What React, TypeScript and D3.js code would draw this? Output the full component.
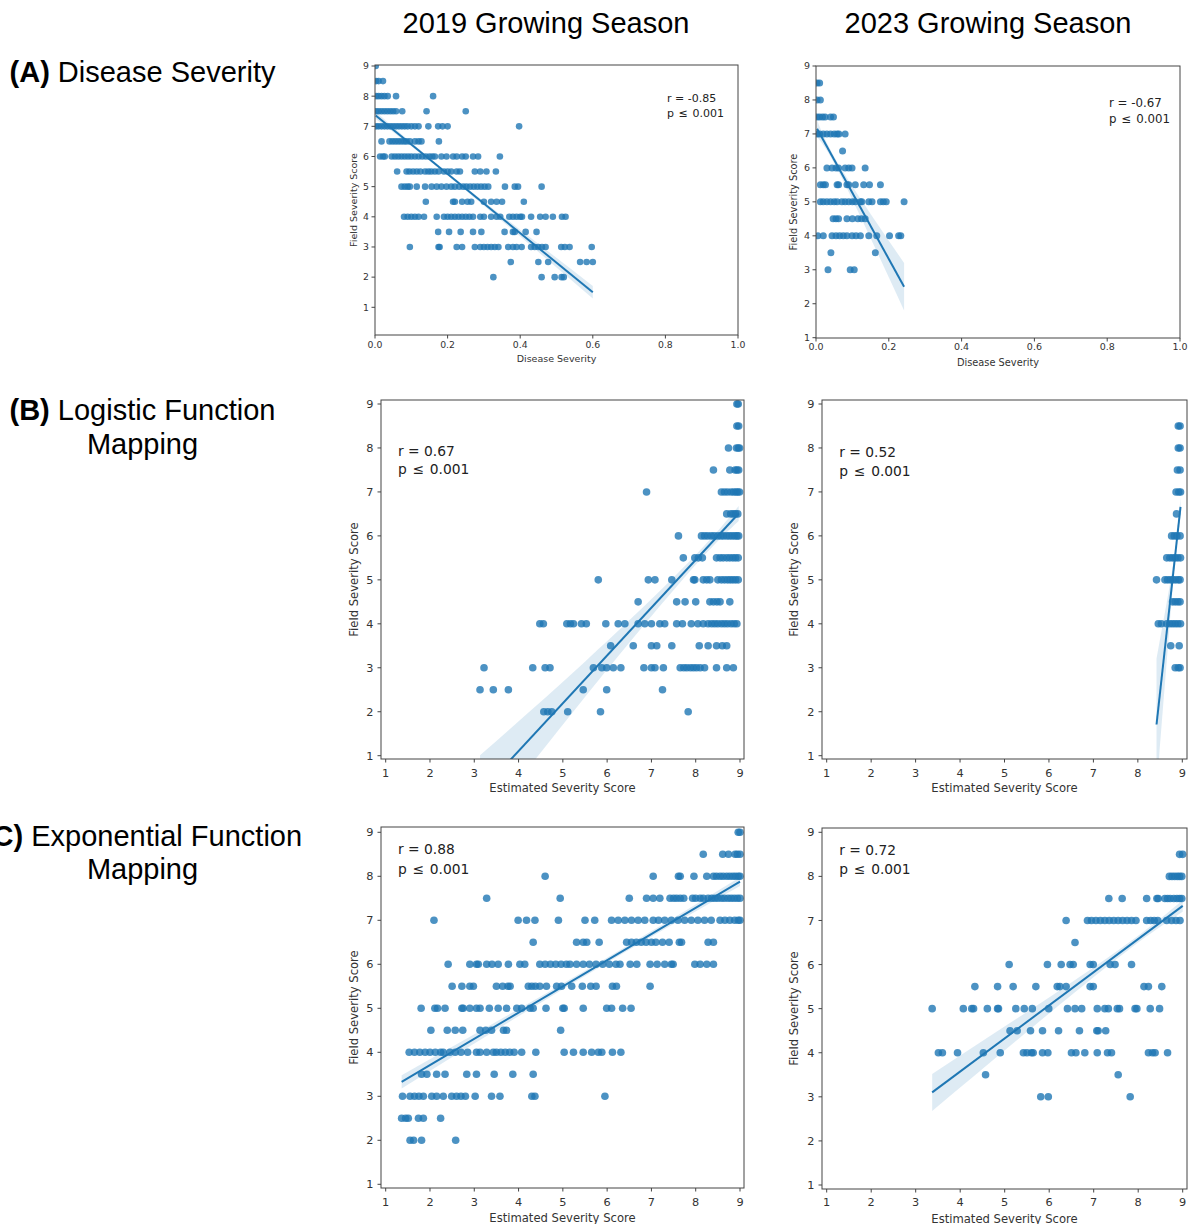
import React, { useEffect, useRef } from 'react';
import * as d3 from 'd3';

type Row = [number, number[]];
type Pair = [number, number];

const columnTitles = ['2019 Growing Season', '2023 Growing Season'];
const rowTags = ['(A)', '(B)', '(C)'];
const rowNames = [['Disease Severity'], ['Logistic Function', 'Mapping'], ['Exponential Function', 'Mapping']];
const xLabels = ['Disease Severity', 'Estimated Severity Score', 'Estimated Severity Score'];
const yLabel = 'Field Severity Score';
const diseaseTicks = [0, 0.2, 0.4, 0.6, 0.8, 1.0];
const scoreTicks = [1, 2, 3, 4, 5, 6, 7, 8, 9];
const rValues = ['-0.85', '-0.67', '0.67', '0.52', '0.88', '0.72'];

// each row: field severity score, then the x values at that score
const disease2019: Row[] = [
  [9, [0.002]],
  [8.5, [0.003, 0.01, 0.022]],
  [8, [0.003, 0.01, 0.018, 0.026, 0.035, 0.058, 0.16]],
  [7.5, [0.003, 0.01, 0.018, 0.026, 0.034, 0.042, 0.05, 0.058, 0.075, 0.142, 0.25]],
  [7, [0.003, 0.01, 0.018, 0.026, 0.034, 0.042, 0.05, 0.058, 0.066, 0.074, 0.082, 0.09, 0.1, 0.11, 0.12, 0.147, 0.174, 0.186, 0.2, 0.397]],
  [6.5, [0.018, 0.04, 0.048, 0.056, 0.064, 0.072, 0.08, 0.087, 0.096, 0.11, 0.12, 0.128, 0.176]],
  [6, [0.014, 0.022, 0.027, 0.046, 0.055, 0.064, 0.073, 0.082, 0.091, 0.1, 0.11, 0.12, 0.13, 0.14, 0.15, 0.158, 0.165, 0.183, 0.197, 0.215, 0.225, 0.24, 0.25, 0.27, 0.284, 0.344]],
  [5.5, [0.061, 0.087, 0.095, 0.105, 0.115, 0.125, 0.138, 0.147, 0.155, 0.165, 0.175, 0.19, 0.2, 0.21, 0.225, 0.234, 0.275, 0.29, 0.307, 0.333]],
  [5, [0.073, 0.082, 0.09, 0.096, 0.115, 0.138, 0.156, 0.17, 0.183, 0.197, 0.21, 0.22, 0.232, 0.243, 0.252, 0.262, 0.272, 0.282, 0.292, 0.302, 0.312, 0.358, 0.385, 0.394, 0.459]],
  [4.5, [0.14, 0.215, 0.22, 0.24, 0.255, 0.265, 0.3, 0.32, 0.335, 0.35, 0.41]],
  [4, [0.08, 0.09, 0.1, 0.11, 0.12, 0.135, 0.17, 0.19, 0.2, 0.21, 0.22, 0.23, 0.24, 0.25, 0.26, 0.27, 0.29, 0.3, 0.32, 0.335, 0.345, 0.37, 0.38, 0.39, 0.4, 0.405, 0.43, 0.455, 0.47, 0.49, 0.515, 0.525]],
  [3.5, [0.174, 0.204, 0.236, 0.27, 0.293, 0.357, 0.38, 0.385, 0.415, 0.445]],
  [3, [0.096, 0.175, 0.178, 0.225, 0.24, 0.275, 0.29, 0.3, 0.31, 0.32, 0.33, 0.34, 0.367, 0.38, 0.39, 0.404, 0.43, 0.44, 0.45, 0.46, 0.47, 0.513, 0.523, 0.536, 0.597]],
  [2.5, [0.374, 0.45, 0.477, 0.565, 0.583, 0.6]],
  [2, [0.326, 0.459, 0.495, 0.514, 0.52]],
];

const disease2023: Row[] = [
  [8.5, [0.003, 0.01]],
  [8, [0.003, 0.012]],
  [7.5, [0.003, 0.01, 0.018, 0.025, 0.04, 0.048]],
  [7, [0.003, 0.01, 0.02, 0.03, 0.04, 0.05, 0.058, 0.063, 0.08]],
  [6.5, [0.073]],
  [6, [0.03, 0.044, 0.055, 0.062, 0.08, 0.09, 0.099, 0.135]],
  [5.5, [0.012, 0.02, 0.026, 0.058, 0.062, 0.085, 0.09, 0.108, 0.131, 0.147, 0.177]],
  [5, [0.012, 0.02, 0.03, 0.04, 0.05, 0.058, 0.071, 0.08, 0.09, 0.1, 0.108, 0.122, 0.126, 0.145, 0.154, 0.177, 0.185, 0.193, 0.242]],
  [4.5, [0.047, 0.055, 0.062, 0.085, 0.1, 0.115, 0.125, 0.135]],
  [4, [0.005, 0.02, 0.044, 0.055, 0.065, 0.075, 0.085, 0.099, 0.11, 0.122, 0.145, 0.167, 0.202, 0.227, 0.233]],
  [3.5, [0.041, 0.163]],
  [3, [0.033, 0.094, 0.105]],
];

const logistic2019: Row[] = [
  [9, [8.93, 8.96]],
  [8.5, [8.93, 8.97]],
  [8, [8.74, 8.92, 8.96, 8.99]],
  [7.5, [8.4, 8.77, 8.89, 8.93, 8.97]],
  [7, [6.89, 8.58, 8.65, 8.72, 8.8, 8.86, 8.91, 8.95, 8.99]],
  [6.5, [8.7, 8.79, 8.85, 8.9, 8.95]],
  [6, [7.61, 8.13, 8.2, 8.27, 8.35, 8.42, 8.5, 8.57, 8.63, 8.7, 8.76, 8.82, 8.88, 8.93, 8.97]],
  [5.5, [7.72, 7.98, 8.06, 8.15, 8.47, 8.55, 8.62, 8.7, 8.77, 8.84, 8.9, 8.96]],
  [5, [5.8, 6.93, 7.08, 7.46, 7.95, 7.98, 8.17, 8.25, 8.32, 8.5, 8.58, 8.65, 8.72, 8.78, 8.84, 8.9, 8.96]],
  [4.5, [6.7, 7.57, 7.76, 8.0, 8.32, 8.4, 8.48, 8.55, 8.77]],
  [4, [4.48, 4.56, 5.09, 5.17, 5.24, 5.42, 5.53, 5.97, 6.25, 6.4, 6.7, 6.85, 7.0, 7.19, 7.3, 7.57, 7.7, 7.9, 8.05, 8.17, 8.28, 8.36, 8.43, 8.5, 8.58, 8.65, 8.72, 8.8, 8.87, 8.93]],
  [3.5, [6.08, 6.59, 7.0, 7.12, 7.46, 8.08, 8.28, 8.47, 8.6, 8.7]],
  [3, [3.22, 4.32, 4.6, 4.71, 5.69, 5.88, 5.99, 6.14, 6.31, 6.83, 7.0, 7.08, 7.27, 7.65, 7.73, 7.8, 7.88, 7.95, 8.02, 8.1, 8.2, 8.47, 8.7, 8.85]],
  [2.5, [3.13, 3.43, 3.77, 5.46, 5.99, 7.25]],
  [2, [4.57, 4.66, 4.75, 5.11, 5.85, 7.83]],
];

const logistic2023: Row[] = [
  [8.5, [8.91, 8.95]],
  [8, [8.91, 8.95]],
  [7.5, [8.89, 8.95]],
  [7, [8.86, 8.92, 8.96]],
  [6.5, [8.87]],
  [6, [8.76, 8.82, 8.88, 8.95]],
  [5.5, [8.65, 8.72, 8.78, 8.84, 8.9, 8.96]],
  [5, [8.42, 8.61, 8.67, 8.73, 8.79, 8.85, 8.91, 8.95]],
  [4.5, [8.78, 8.84, 8.9, 8.95]],
  [4, [8.46, 8.53, 8.65, 8.72, 8.78, 8.84, 8.9, 8.96]],
  [3.5, [8.74, 8.93]],
  [3, [8.84, 8.91, 8.95]],
];

const exponential2019: Row[] = [
  [9, [8.96, 9.0]],
  [8.5, [8.17, 8.61, 8.74, 8.89, 8.94, 9.0]],
  [8, [4.6, 7.04, 7.61, 7.65, 7.96, 8.25, 8.4, 8.47, 8.55, 8.62, 8.7, 8.77, 8.84, 8.9, 8.96, 9.0]],
  [7.5, [3.28, 4.94, 6.5, 6.89, 7.04, 7.19, 7.42, 7.5, 7.57, 7.65, 7.73, 7.93, 8.0, 8.1, 8.17, 8.28, 8.36, 8.43, 8.5, 8.58, 8.65, 8.73, 8.8, 8.87, 8.94, 9.0]],
  [7, [2.09, 3.99, 4.18, 4.37, 4.9, 5.5, 5.72, 6.1, 6.25, 6.4, 6.55, 6.7, 6.85, 7.04, 7.16, 7.3, 7.45, 7.6, 7.75, 7.9, 8.05, 8.2, 8.35, 8.55, 8.66, 8.77, 8.88, 8.96, 9.0]],
  [6.5, [4.33, 5.31, 5.46, 5.54, 5.82, 6.44, 6.55, 6.66, 6.77, 6.88, 7.0, 7.1, 7.25, 7.4, 7.63, 7.68, 8.28, 8.4]],
  [6, [2.41, 2.9, 3.05, 3.09, 3.28, 3.4, 3.54, 3.77, 4.03, 4.14, 4.48, 4.6, 4.72, 4.84, 4.96, 5.08, 5.16, 5.31, 5.46, 5.6, 5.75, 5.9, 6.05, 6.2, 6.29, 6.52, 6.67, 6.97, 7.13, 7.3, 7.45, 7.49, 7.98, 8.1, 8.25, 8.4]],
  [5.5, [2.5, 2.72, 2.9, 2.98, 3.5, 3.64, 3.76, 3.81, 4.22, 4.3, 4.38, 4.48, 4.63, 4.86, 4.97, 5.2, 5.44, 5.63, 5.75, 6.12, 6.21, 6.97]],
  [5, [1.8, 2.11, 2.17, 2.34, 2.72, 2.75, 2.9, 3.05, 3.13, 3.34, 3.54, 3.73, 3.96, 4.07, 4.26, 4.33, 4.62, 5.0, 5.03, 5.46, 5.99, 6.1, 6.35, 6.54]],
  [4.5, [2.02, 2.39, 2.57, 2.74, 3.13, 3.26, 3.39, 3.66, 3.73, 4.95]],
  [4, [1.53, 1.65, 1.77, 1.89, 2.0, 2.12, 2.24, 2.3, 2.45, 2.57, 2.7, 2.85, 3.05, 3.13, 3.28, 3.43, 3.5, 3.6, 3.7, 3.8, 3.9, 4.07, 4.39, 5.03, 5.24, 5.46, 5.65, 5.8, 5.88, 6.12, 6.31]],
  [3.5, [1.81, 1.93, 2.15, 2.34, 2.83, 3.05, 3.45, 3.87, 4.33]],
  [3, [1.38, 1.55, 1.65, 1.75, 1.85, 2.04, 2.15, 2.3, 2.49, 2.6, 2.7, 2.8, 3.02, 3.39, 3.58, 4.3, 4.37, 5.95]],
  [2.5, [1.36, 1.45, 1.51, 1.74, 1.85, 2.24]],
  [2, [1.55, 1.63, 1.81, 2.58]],
];

const exponential2023: Row[] = [
  [8.5, [8.93, 9.0]],
  [8, [8.7, 8.76, 8.82, 8.88, 8.93, 8.98]],
  [7.5, [7.34, 7.64, 8.19, 8.42, 8.45, 8.6, 8.66, 8.72, 8.8, 8.87, 8.93, 8.98]],
  [7, [6.38, 6.86, 6.95, 7.05, 7.15, 7.25, 7.35, 7.45, 7.55, 7.65, 7.75, 7.85, 7.95, 8.19, 8.28, 8.36, 8.44, 8.64, 8.75, 8.85, 8.94]],
  [6.5, [6.58]],
  [6, [5.1, 5.96, 6.27, 6.47, 6.54, 6.92, 6.99, 7.37, 7.48, 7.85]],
  [5.5, [4.33, 4.84, 5.19, 5.7, 6.18, 6.24, 6.38, 6.92, 6.99, 8.13, 8.23, 8.53]],
  [5, [3.37, 4.07, 4.26, 4.3, 4.61, 4.84, 4.86, 5.25, 5.44, 5.62, 5.99, 6.41, 6.58, 6.73, 7.08, 7.25, 7.33, 7.53, 7.58, 7.93, 7.97, 8.27, 8.48]],
  [4.5, [5.12, 5.28, 5.58, 5.85, 6.21, 6.68, 7.07, 7.1, 7.27]],
  [4, [3.51, 3.6, 3.94, 4.52, 4.9, 5.42, 5.5, 5.6, 5.64, 5.85, 5.97, 6.5, 6.6, 6.8, 7.08, 7.31, 7.4, 8.23, 8.32, 8.38, 8.66]],
  [3.5, [4.57, 7.55]],
  [3, [5.81, 5.98, 7.82]],
];

// fitted regression line ends and confidence band half-widths [x, halfWidth]
const fitDisease2019: Pair[] = [[0.002, 7.36], [0.6, 1.5]];
const bandDisease2019: Pair[] = [[0.002, 0.12], [0.22, 0.05], [0.6, 0.21]];
const fitDisease2023: Pair[] = [[0.003, 7.15], [0.242, 2.5]];
const bandDisease2023: Pair[] = [[0.003, 0.25], [0.07, 0.12], [0.242, 0.7]];
const fitLogistic2019: Pair[] = [[3.13, 0.16], [8.97, 6.51]];
const bandLogistic2019: Pair[] = [[3.13, 0.85], [5.5, 0.4], [7.8, 0.12], [8.97, 0.17]];
const fitLogistic2023: Pair[] = [[8.42, 1.71], [8.96, 6.66]];
const bandLogistic2023: Pair[] = [[8.42, 1.5], [8.7, 0.5], [8.85, 0.12], [8.96, 0.2]];
const fitExponential2019: Pair[] = [[1.36, 3.33], [9.0, 7.88]];
const bandExponential2019: Pair[] = [[1.36, 0.15], [5.5, 0.06], [9.0, 0.1]];
const fitExponential2023: Pair[] = [[3.37, 3.1], [9.0, 7.33]];
const bandExponential2023: Pair[] = [[3.37, 0.42], [7.2, 0.1], [9.0, 0.13]];

const blue = '#1f77b4';
const axisFont = 'DejaVu Sans, sans-serif';
const titleFont = 'Liberation Sans, Arial, sans-serif';

// layout: x/y give pixel positions of first and last tick, box is the axes frame
const panels = [
  { rows: disease2019, fit: fitDisease2019, band: bandDisease2019, xt: diseaseTicks, x: [375, 738], y: [307.3, 66], box: [375, 65, 738, 335], tick: 9.3, label: 9.5, note: 11, r: 3.3, ann: [667, 101.7, 116.7], xlab: 362, ylab: 356.5, xtb: 348.3, row: 0 },
  { rows: disease2023, fit: fitDisease2023, band: bandDisease2023, xt: diseaseTicks, x: [816, 1180], y: [337.7, 66], box: [816, 66, 1180, 338], tick: 9.5, label: 9.8, note: 11.8, r: 3.5, ann: [1109, 106.7, 122.5], xlab: 365.5, ylab: 796.5, xtb: 350, row: 0 },
  { rows: logistic2019, fit: fitLogistic2019, band: bandLogistic2019, xt: scoreTicks, x: [385.7, 740], y: [755.7, 404], box: [381, 400, 744, 759], tick: 11.3, label: 11.6, note: 13.8, r: 3.8, ann: [398, 455.7, 474], xlab: 792, ylab: 357.5, xtb: 776.7, row: 1 },
  { rows: logistic2023, fit: fitLogistic2023, band: bandLogistic2023, xt: scoreTicks, x: [826.7, 1182.3], y: [755.7, 404], box: [822, 400, 1187, 759], tick: 11.3, label: 11.6, note: 13.8, r: 3.8, ann: [839.3, 456.7, 475.5], xlab: 792, ylab: 797.5, xtb: 776.7, row: 1 },
  { rows: exponential2019, fit: fitExponential2019, band: bandExponential2019, xt: scoreTicks, x: [385.7, 740], y: [1184.3, 832.3], box: [381, 827, 744, 1188], tick: 11.3, label: 11.6, note: 13.8, r: 3.8, ann: [398, 854.3, 874], xlab: 1221.5, ylab: 357.5, xtb: 1205.7, row: 2 },
  { rows: exponential2023, fit: fitExponential2023, band: bandExponential2023, xt: scoreTicks, x: [826.7, 1182.7], y: [1185, 832.3], box: [822, 828, 1187, 1189], tick: 11.3, label: 11.6, note: 13.8, r: 3.8, ann: [839.3, 854.7, 874], xlab: 1223, ylab: 797.5, xtb: 1206, row: 2 },
];

const App = () => {
  const svgRef = useRef<SVGSVGElement>(null);

  useEffect(() => {
    const svg = d3.select(svgRef.current);
    svg.selectAll('*').remove();

    // column titles
    columnTitles.forEach((t, i) => {
      svg.append('text')
        .attr('x', i === 0 ? 546 : 988)
        .attr('y', 33)
        .attr('text-anchor', 'middle')
        .style('font-family', titleFont)
        .style('font-size', '29px')
        .text(t);
    });

    // row titles
    const rowBase = [[82], [420, 454], [846, 878.5]];
    rowNames.forEach((lines, i) => {
      lines.forEach((line, j) => {
        const t = svg.append('text')
          .attr('x', 142.5)
          .attr('y', rowBase[i][j])
          .attr('text-anchor', 'middle')
          .style('font-family', titleFont)
          .style('font-size', '29px');
        if (j === 0) {
          t.append('tspan').style('font-weight', 'bold').text(rowTags[i] + ' ');
        }
        t.append('tspan').text(line);
      });
    });

    panels.forEach((p, idx) => {
      const xs = d3.scaleLinear().domain([p.xt[0], p.xt[p.xt.length - 1]]).range(p.x);
      const ys = d3.scaleLinear().domain([1, 9]).range(p.y);
      const [bx0, by0, bx1, by1] = p.box;
      const g = svg.append('g');

      const clipId = `clip-${idx}`;
      g.append('clipPath').attr('id', clipId)
        .append('rect')
        .attr('x', bx0).attr('y', by0)
        .attr('width', bx1 - bx0).attr('height', by1 - by0);

      const pts = p.rows.flatMap(([yv, xv]) => xv.map(x => ({ x, y: yv })));
      const plot = g.append('g').attr('clip-path', `url(#${clipId})`);

      plot.selectAll('circle')
        .data(pts)
        .enter()
        .append('circle')
        .attr('cx', d => xs(d.x))
        .attr('cy', d => ys(d.y))
        .attr('r', p.r)
        .attr('fill', blue)
        .attr('fill-opacity', 0.8);

      const lineAt = d3.scaleLinear().domain([p.fit[0][0], p.fit[1][0]]).range([p.fit[0][1], p.fit[1][1]]);
      const band = d3.area<Pair>()
        .x(d => xs(d[0]))
        .y0(d => ys(lineAt(d[0]) - d[1]))
        .y1(d => ys(lineAt(d[0]) + d[1]))
        .curve(d3.curveNatural);
      plot.append('path')
        .datum(p.band)
        .attr('d', band)
        .attr('fill', blue)
        .attr('fill-opacity', 0.15);

      plot.append('path')
        .datum(p.fit)
        .attr('d', d3.line<Pair>().x(d => xs(d[0])).y(d => ys(d[1])))
        .attr('stroke', blue)
        .attr('stroke-width', 2)
        .attr('fill', 'none');

      // frame
      g.append('rect')
        .attr('x', bx0).attr('y', by0)
        .attr('width', bx1 - bx0).attr('height', by1 - by0)
        .attr('fill', 'none')
        .attr('stroke', '#444')
        .attr('stroke-width', 1);

      // x ticks
      const xg = g.append('g');
      p.xt.forEach(t => {
        xg.append('line')
          .attr('x1', xs(t)).attr('x2', xs(t))
          .attr('y1', by1).attr('y2', by1 + 3.5)
          .attr('stroke', '#444');
        xg.append('text')
          .attr('x', xs(t))
          .attr('y', p.xtb)
          .attr('text-anchor', 'middle')
          .style('font-family', axisFont)
          .style('font-size', `${p.tick}px`)
          .attr('fill', '#333')
          .text(p.xt === diseaseTicks ? d3.format('.1f')(t) : String(t));
      });

      // y ticks
      scoreTicks.forEach(t => {
        g.append('line')
          .attr('x1', bx0 - 3.5).attr('x2', bx0)
          .attr('y1', ys(t)).attr('y2', ys(t))
          .attr('stroke', '#444');
        g.append('text')
          .attr('x', bx0 - (p.row === 0 ? 6 : 7.5))
          .attr('y', ys(t))
          .attr('dy', '0.36em')
          .attr('text-anchor', 'end')
          .style('font-family', axisFont)
          .style('font-size', `${p.tick}px`)
          .attr('fill', '#333')
          .text(String(t));
      });

      g.append('text')
        .attr('x', (bx0 + bx1) / 2)
        .attr('y', p.xlab)
        .attr('text-anchor', 'middle')
        .style('font-family', axisFont)
        .style('font-size', `${p.label}px`)
        .attr('fill', '#333')
        .text(xLabels[p.row]);

      g.append('text')
        .attr('transform', `translate(${p.ylab},${(by0 + by1) / 2}) rotate(-90)`)
        .attr('text-anchor', 'middle')
        .style('font-family', axisFont)
        .style('font-size', `${p.label}px`)
        .attr('fill', '#333')
        .text(yLabel);

      g.append('text')
        .attr('x', p.ann[0]).attr('y', p.ann[1])
        .style('font-family', axisFont)
        .style('font-size', `${p.note}px`)
        .attr('fill', '#222')
        .text(`r = ${rValues[idx]}`);
      g.append('text')
        .attr('x', p.ann[0]).attr('y', p.ann[2])
        .style('font-family', axisFont)
        .style('font-size', `${p.note}px`)
        .attr('fill', '#222')
        .text('p \u200a\u2264\u200a 0.001');
    });
  }, []);

  return (
    <div style={{ position: 'absolute', left: 0, top: 0 }}>
      <svg ref={svgRef} width={1198} height={1224} style={{ display: 'block', background: '#fff' }}></svg>
    </div>
  );
};

export default App;
